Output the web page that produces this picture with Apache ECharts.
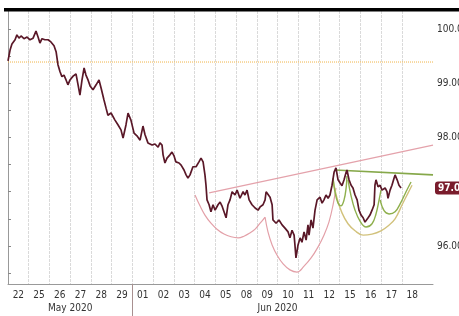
<!DOCTYPE html>
<html><head><meta charset="utf-8">
<script src="https://cdn.jsdelivr.net/npm/echarts@6/dist/echarts.min.js"></script>
<style>html,body{margin:0;padding:0;background:#fff;overflow:hidden}#c{width:459px;height:316px}</style>
</head><body><div id="c"></div>
<script>
// ---- data ----
const dayLabels = ['22','25','26','27','28','29','01','02','03','04','05','08','09','10','11','12','15','16','17','18'];
const monthNames = ['May 2020', 'Jun 2020'];
const monthCenters = [3, 13];
const monthBreaks = [6];
const yLabelValues = [96, 98, 99, 100];
const yTickValues = [95.5, 96, 96.5, 97, 97.5, 98, 98.5, 99, 99.5, 100];
const resistanceLevel = 99.39;
const price = [[0.00,99.41],[0.10,99.61],[0.19,99.72],[0.34,99.80],[0.43,99.89],[0.53,99.83],[0.63,99.87],[0.77,99.82],[0.92,99.85],[1.06,99.80],[1.21,99.83],[1.35,99.96],[1.45,99.85],[1.54,99.74],[1.64,99.82],[1.78,99.80],[1.93,99.80],[2.07,99.76],[2.22,99.69],[2.32,99.58],[2.41,99.34],[2.51,99.21],[2.60,99.12],[2.70,99.15],[2.80,99.06],[2.89,98.97],[2.99,99.06],[3.14,99.13],[3.28,99.17],[3.38,98.97],[3.47,98.78],[3.57,99.06],[3.67,99.28],[3.76,99.15],[3.86,99.06],[3.96,98.95],[4.10,98.88],[4.25,98.97],[4.39,99.06],[4.49,98.91],[4.63,98.69],[4.73,98.54],[4.82,98.41],[4.97,98.45],[5.16,98.32],[5.31,98.23],[5.45,98.14],[5.55,97.99],[5.69,98.23],[5.79,98.45],[5.93,98.32],[6.08,98.08],[6.22,98.03],[6.37,97.95],[6.51,98.21],[6.61,98.05],[6.75,97.90],[6.95,97.86],[7.09,97.88],[7.24,97.82],[7.33,97.90],[7.43,97.86],[7.48,97.68],[7.57,97.53],[7.67,97.62],[7.81,97.68],[7.91,97.73],[8.01,97.66],[8.10,97.55],[8.25,97.53],[8.35,97.49],[8.49,97.40],[8.59,97.31],[8.68,97.25],[8.78,97.31],[8.92,97.46],[9.07,97.46],[9.21,97.55],[9.31,97.62],[9.41,97.55],[9.50,97.31],[9.55,97.12],[9.60,96.85],[9.70,96.76],[9.79,96.63],[9.89,96.76],[9.99,96.66],[10.13,96.76],[10.23,96.81],[10.32,96.74],[10.42,96.63],[10.52,96.52],[10.61,96.76],[10.71,96.85],[10.81,97.00],[10.95,96.94],[11.05,97.03],[11.19,96.88],[11.34,97.00],[11.43,96.94],[11.53,97.03],[11.63,96.85],[11.77,96.76],[11.92,96.70],[12.06,96.66],[12.16,96.72],[12.30,96.76],[12.40,96.85],[12.45,97.00],[12.54,97.03],[12.64,96.90],[12.74,96.76],[12.78,96.48],[12.93,96.42],[13.07,96.48],[13.22,96.39],[13.36,96.33],[13.51,96.26],[13.60,96.15],[13.70,96.29],[13.80,96.20],[13.84,96.02],[13.89,95.78],[13.99,96.02],[14.09,96.15],[14.18,96.07],[14.28,96.26],[14.38,96.11],[14.47,96.39],[14.52,96.20],[14.62,96.48],[14.71,96.33],[14.81,96.66],[14.91,96.85],[15.05,96.90],[15.15,96.79],[15.24,96.85],[15.34,96.94],[15.44,96.88],[15.53,96.94],[15.63,97.12],[15.73,97.36],[15.82,97.44],[15.92,97.22],[16.02,97.16],[16.11,97.11],[16.21,97.22],[16.31,97.36],[16.35,97.40],[16.45,97.22],[16.55,97.12],[16.64,97.07],[16.74,96.94],[16.84,96.85],[16.93,96.66],[17.03,96.57],[17.13,96.52],[17.22,96.44],[17.37,96.52],[17.46,96.57],[17.56,96.66],[17.66,96.76],[17.70,97.12],[17.75,97.22],[17.85,97.09],[17.95,97.12],[18.04,97.03],[18.19,97.07],[18.28,97.00],[18.33,96.88],[18.43,97.03],[18.52,97.12],[18.62,97.25],[18.67,97.31],[18.77,97.22],[18.86,97.12],[18.96,97.07]];
const trendPink = [[9.70,96.98],[20.5,97.86]];
const neckGreen = [[15.77,97.40],[20.5,97.31]];
const cupPink1 = [[9.02,96.94],[9.26,96.74],[9.50,96.57],[9.79,96.42],[10.08,96.31],[10.42,96.22],[10.76,96.17],[11.10,96.15],[11.38,96.18],[11.67,96.24],[11.92,96.31],[12.16,96.42],[12.40,96.53]];
const cupPink2 = [[12.40,96.53],[12.54,96.26],[12.74,96.02],[12.98,95.83],[13.27,95.67],[13.60,95.56],[13.94,95.52],[14.28,95.63],[14.62,95.78],[14.95,95.98],[15.24,96.20],[15.48,96.44],[15.68,96.76],[15.82,97.07]];
const cupGreen1 = [[15.68,97.25],[15.77,97.00],[15.92,96.79],[16.06,96.74],[16.21,96.85],[16.31,97.07],[16.35,97.29]];
const cupGreen2 = [[16.40,97.22],[16.55,96.92],[16.74,96.66],[16.98,96.46],[17.27,96.35],[17.56,96.41],[17.75,96.59],[17.90,96.85],[17.99,97.03]];
const handleGreen = [[17.95,96.85],[18.14,96.65],[18.38,96.59],[18.67,96.63],[18.96,96.81],[19.20,97.00],[19.44,97.18]];
const cupKhaki = [[15.68,97.22],[15.87,96.88],[16.11,96.61],[16.40,96.41],[16.74,96.28],[17.13,96.20],[17.56,96.22],[17.99,96.28],[18.33,96.37],[18.67,96.50],[19.01,96.76],[19.30,96.98],[19.49,97.12]];

// ---- chart ----
const FONT = 'DejaVu Sans Condensed';
const xMin = 0, xMax = 20.5, yMin = 95.3, yMax = 100.33;
const lastPrice = price[price.length - 1][1];
const chart = echarts.init(document.getElementById('c'), null, {renderer: 'canvas'});
function overlay(data, color, width, type) {
  return {type: 'line', data: data, showSymbol: false, smooth: data.length > 2 ? 0.4 : false,
    lineStyle: {color: color, width: width, type: type || 'solid'}, silent: true, z: 2};
}
chart.setOption({
  animation: false,
  backgroundColor: '#fff',
  grid: {left: 8, right: 26, top: 11, bottom: 32, containLabel: false, outerBoundsMode: 'none'},
  graphic: [{type: 'rect', left: 4, top: 8, shape: {width: 455, height: 3.5}, style: {fill: '#000'}, z: 100}],
  xAxis: [{
    type: 'value', min: xMin, max: xMax, interval: 1,
    axisLine: {show: true, lineStyle: {color: '#999', width: 1}},
    axisTick: {show: false, customValues: dayLabels.map((_, i) => i)},
    splitLine: {show: true, lineStyle: {color: '#dadada', width: 1, type: [3, 1]}},
    axisLabel: {customValues: dayLabels.map((_, i) => i + 0.5), formatter: v => dayLabels[Math.floor(v)],
      fontFamily: FONT, fontSize: 10, color: '#333', margin: 6}
  }, {
    type: 'value', min: xMin, max: xMax, position: 'bottom',
    axisLine: {show: false},
    axisTick: {show: true, customValues: monthBreaks, length: 32, lineStyle: {color: '#a89090', width: 1}},
    splitLine: {show: false},
    axisLabel: {customValues: monthCenters, formatter: v => monthNames[monthCenters.indexOf(v)],
      fontFamily: FONT, fontSize: 10, color: '#333', margin: 19}
  }],
  yAxis: [{
    type: 'value', position: 'right', min: yMin, max: yMax,
    axisLine: {show: true, lineStyle: {color: '#999', width: 1}},
    axisTick: {show: true, customValues: yTickValues, length: 3, lineStyle: {color: '#888'}},
    splitLine: {show: false},
    axisLabel: {customValues: yLabelValues, formatter: v => v.toFixed(2), fontFamily: FONT, fontSize: 10, color: '#333', margin: 4}
  }, {
    type: 'value', position: 'right', min: yMin, max: yMax,
    axisLine: {show: false}, axisTick: {show: false}, splitLine: {show: false},
    axisLabel: {customValues: [lastPrice], formatter: v => v.toFixed(2), fontFamily: FONT, fontSize: 10, fontWeight: 'bold',
      color: '#fff', backgroundColor: '#7a1c2c', borderRadius: 3, padding: [2, 3, 1, 3], margin: 2}
  }],
  series: [
    overlay([[xMin, resistanceLevel], [xMax, resistanceLevel]], '#f0b54a', 1, 'dotted'),
    overlay(trendPink, '#e4a2ab', 1.2),
    overlay(cupPink1, '#e3a0a8', 1.2),
    overlay(cupPink2, '#e3a0a8', 1.2),
    overlay(cupKhaki, '#d2c27c', 1.4),
    overlay(cupGreen1, '#8fb04e', 1.4),
    overlay(cupGreen2, '#8fb04e', 1.4),
    overlay(handleGreen, '#8fb04e', 1.4),
    overlay(neckGreen, '#86a84a', 1.6),
    {type: 'line', data: price, showSymbol: false, z: 3, silent: true,
      lineStyle: {color: '#5a1828', width: 1.7}}
  ]
});
</script></body></html>
